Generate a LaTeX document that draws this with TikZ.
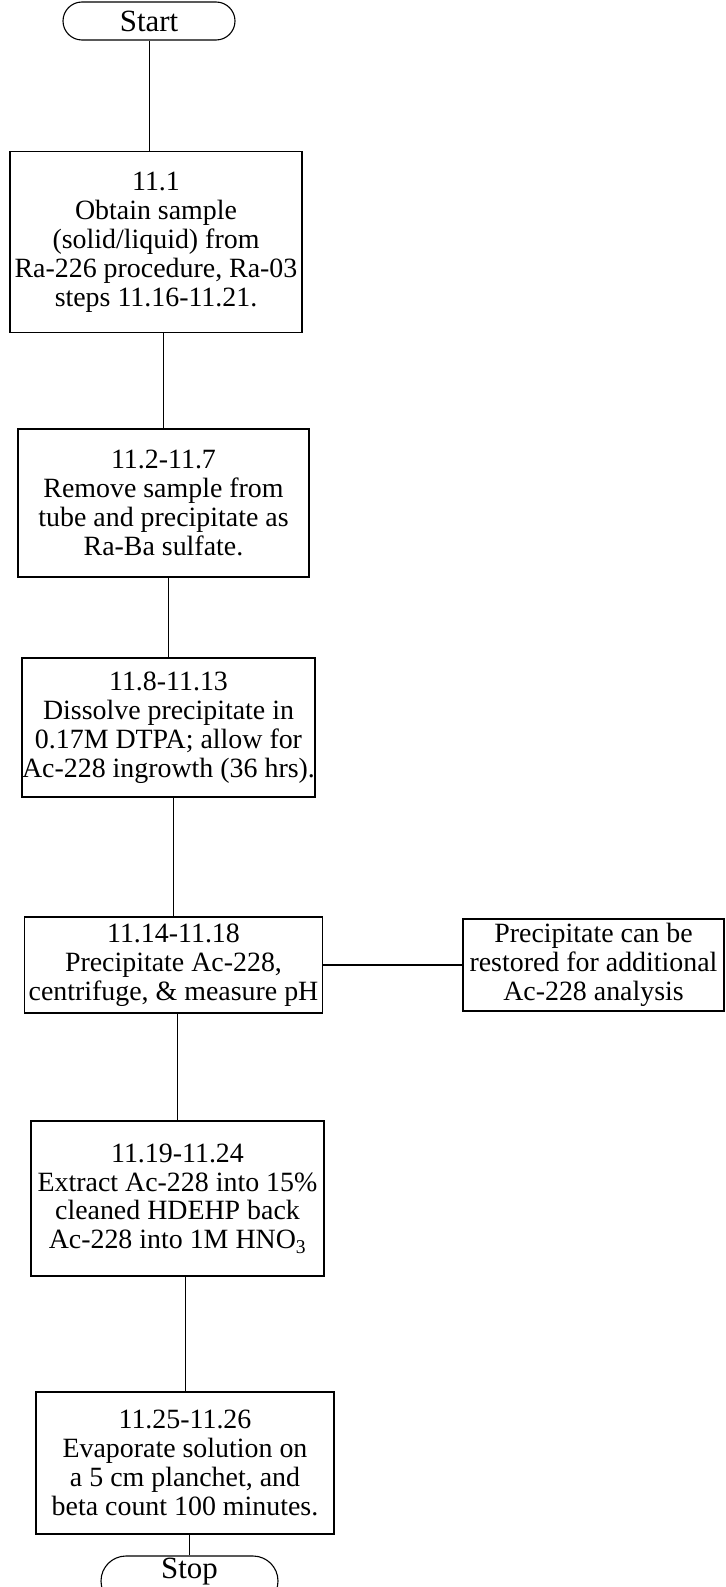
\documentclass[tikz,border=0pt]{standalone}
\usepackage{fontspec}
\setmainfont{Liberation Serif}
\begin{document}
\begin{tikzpicture}[x=1bp,y=-1bp,
  stepbox/.style={draw, line width=1.4bp, rectangle, align=center, inner sep=0pt,
    font=\fontsize{28}{29}\selectfont},
  term/.style={draw, line width=1.1bp, rectangle, rounded corners=19bp, inner sep=0pt,
    minimum width=172bp, minimum height=38bp, font=\fontsize{31}{33}\selectfont},
  conn/.style={line width=0.9bp}]
\clip (0,0) rectangle (726,1587);
\fill[white] (0,0) rectangle (726,1587);

\node[term] (start) at (149,21) {Start};
\node[stepbox, minimum width=292bp, minimum height=181bp] (b1) at (156,242)
  {11.1\\Obtain sample\\(solid/liquid) from\\Ra-226 procedure, Ra-03\\steps 11.16-11.21.};
\node[stepbox, minimum width=291bp, minimum height=148bp] (b2) at (163.5,503)
  {11.2-11.7\\Remove sample from\\tube and precipitate as\\Ra-Ba sulfate.};
\node[stepbox, minimum width=293bp, minimum height=139bp] (b3) at (168.5,727.5)
  {11.8-11.13\\Dissolve precipitate in\\0.17M DTPA; allow for\\Ac-228 ingrowth (36 hrs).};
\node[stepbox, minimum width=298bp, minimum height=96bp] (b4) at (173.5,965)
  {11.14-11.18\\Precipitate Ac-228,\\centrifuge, \& measure pH};
\node[stepbox, minimum width=261bp, minimum height=92bp] (side) at (593.5,965)
  {Precipitate can be\\restored for additional\\Ac-228 analysis};
\node[stepbox, minimum width=293bp, minimum height=155bp] (b5) at (177.5,1198.5)
  {11.19-11.24\\Extract Ac-228 into 15\%\\cleaned HDEHP back\\Ac-228 into 1M HNO\textsubscript{3}};
\node[stepbox, minimum width=298bp, minimum height=142bp] (b6) at (185,1463)
  {11.25-11.26\\Evaporate solution on\\a 5 cm planchet, and\\beta count 100 minutes.};
\node[term, minimum width=177bp, minimum height=50bp, rounded corners=25bp] (stop) at (189.5,1581) {};
\node[font=\fontsize{31}{33}\selectfont, anchor=base] (stoplbl) at (189.5,1578) {Stop};

\draw[conn] (start.south) -- (start.south |- b1.north);
\draw[conn] (b2.north) -- (b2.north |- b1.south);
\draw[conn] (b3.north) -- (b3.north |- b2.south);
\draw[conn] (b4.north) -- (b4.north |- b3.south);
\draw[conn] (b5.north) -- (b5.north |- b4.south);
\draw[conn] (b6.north) -- (b6.north |- b5.south);
\draw[conn] (stop.north) -- (stop.north |- b6.south);
\draw[line width=1.3bp] (b4.east) -- (side.west);
\end{tikzpicture}
\end{document}
